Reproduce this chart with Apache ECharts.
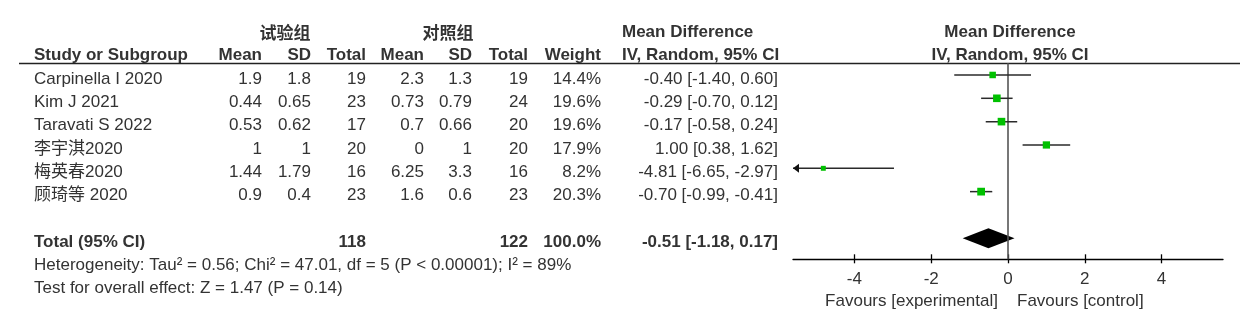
<!DOCTYPE html>
<html><head><meta charset="utf-8">
<script src="https://cdn.jsdelivr.net/npm/echarts@6/dist/echarts.min.js"></script>
<style>html,body{margin:0;padding:0;background:#fff;}#c{width:1246px;height:324px;}</style>
</head><body><div id="c"></div>
<script>
// ---------------- data ----------------
const studies = ['Carpinella I 2020', 'Kim J 2021', 'Taravati S 2022', '李宇淇2020', '梅英春2020', '顾琦等 2020'];
const expMean = [1.9, 0.44, 0.53, 1, 1.44, 0.9];
const expSD = [1.8, 0.65, 0.62, 1, 1.79, 0.4];
const expTotal = [19, 23, 17, 20, 16, 23];
const ctlMean = [2.3, 0.73, 0.7, 0, 6.25, 1.6];
const ctlSD = [1.3, 0.79, 0.66, 1, 3.3, 0.6];
const ctlTotal = [19, 24, 20, 20, 16, 23];
const weights = [14.4, 19.6, 19.6, 17.9, 8.2, 20.3];
const meanDiff = [-0.40, -0.29, -0.17, 1.00, -4.81, -0.70];
const ciLow = [-1.40, -0.70, -0.58, 0.38, -6.65, -0.99];
const ciHigh = [0.60, 0.12, 0.24, 1.62, -2.97, -0.41];
const totalExpN = 118;
const totalCtlN = 122;
const totalWeight = 100.0;
const totalMD = -0.51;
const totalLow = -1.18;
const totalHigh = 0.17;
const heterogeneityText = 'Heterogeneity: Tau² = 0.56; Chi² = 47.01, df = 5 (P < 0.00001); I² = 89%';
const overallText = 'Test for overall effect: Z = 1.47 (P = 0.14)';
const xTicks = [-4, -2, 0, 2, 4];
const groupExp = '试验组';
const groupCtl = '对照组';
const favourLeft = 'Favours [experimental]';
const favourRight = 'Favours [control]';

// ---------------- layout / style ----------------
const FONT = '"Liberation Sans", Arial, "Noto Sans CJK SC", sans-serif';
const CJKFONT = '"Noto Sans CJK SC", sans-serif';
const FS = 17;
const TXT = '#333333';
const COL = {study: 34, expMean: 262, expSD: 311, expN: 366, ctlMean: 424, ctlSD: 472, ctlN: 528,
  weight: 601, ci: 778, mdHead: 622, forestHead: 1010, expGroup: 285, ctlGroup: 448};
const X_MIN = -5.6, X_MAX = 5.6;
const TOTAL_ROW = 7;

const fmtCI = (m, l, h) => m.toFixed(2) + ' [' + l.toFixed(2) + ', ' + h.toFixed(2) + ']';
const cell = (t, x, a, b, f) => ({t: String(t), x: x, a: a, b: !!b, f: f || FONT});

const tableRows = [];
tableRows.push({y: -2, cells: [
  cell(groupExp, COL.expGroup, 'center', true, CJKFONT),
  cell(groupCtl, COL.ctlGroup, 'center', true, CJKFONT),
  cell('Mean Difference', COL.mdHead, 'left', true),
  cell('Mean Difference', COL.forestHead, 'center', true)
]});
tableRows.push({y: -1, cells: [
  cell('Study or Subgroup', COL.study, 'left', true),
  cell('Mean', COL.expMean, 'right', true), cell('SD', COL.expSD, 'right', true), cell('Total', COL.expN, 'right', true),
  cell('Mean', COL.ctlMean, 'right', true), cell('SD', COL.ctlSD, 'right', true), cell('Total', COL.ctlN, 'right', true),
  cell('Weight', COL.weight, 'right', true),
  cell('IV, Random, 95% CI', COL.mdHead, 'left', true),
  cell('IV, Random, 95% CI', COL.forestHead, 'center', true)
]});
studies.forEach((s, i) => tableRows.push({y: i, cells: [
  cell(s, COL.study, 'left'),
  cell(expMean[i], COL.expMean, 'right'), cell(expSD[i], COL.expSD, 'right'), cell(expTotal[i], COL.expN, 'right'),
  cell(ctlMean[i], COL.ctlMean, 'right'), cell(ctlSD[i], COL.ctlSD, 'right'), cell(ctlTotal[i], COL.ctlN, 'right'),
  cell(weights[i].toFixed(1) + '%', COL.weight, 'right'),
  cell(fmtCI(meanDiff[i], ciLow[i], ciHigh[i]), COL.ci, 'right')
]}));
tableRows.push({y: TOTAL_ROW, cells: [
  cell('Total (95% CI)', COL.study, 'left', true),
  cell(totalExpN, COL.expN, 'right', true),
  cell(totalCtlN, COL.ctlN, 'right', true),
  cell(totalWeight.toFixed(1) + '%', COL.weight, 'right', true),
  cell(fmtCI(totalMD, totalLow, totalHigh), COL.ci, 'right', true)
]});
tableRows.push({y: TOTAL_ROW + 1, cells: [cell(heterogeneityText, COL.study, 'left')]});
tableRows.push({y: TOTAL_ROW + 2, cells: [cell(overallText, COL.study, 'left')]});

const forestData = studies.map((s, i) => [meanDiff[i], i, ciLow[i], ciHigh[i], weights[i]]);

const chart = echarts.init(document.getElementById('c'), null, {renderer: 'canvas'});

function renderTable(params, api) {
  const row = tableRows[params.dataIndex];
  const py = api.coord([0, row.y])[1];
  const children = row.cells.map(c => ({
    type: 'text',
    x: api.coord([c.x, row.y])[0],
    y: py,
    style: {text: c.t, align: c.a, verticalAlign: 'middle', fontSize: FS, fontWeight: c.b ? 'bold' : 'normal',
      fontFamily: c.f, fill: TXT}
  }));
  if (params.dataIndex === 1) {
    const a = api.coord([19, -0.7]), b = api.coord([1240, -0.7]);
    children.push({type: 'line', shape: {x1: a[0], y1: Math.round(a[1]) + 0.5, x2: b[0], y2: Math.round(a[1]) + 0.5},
      style: {stroke: '#222', lineWidth: 1.3}});
  }
  return {type: 'group', children};
}

function renderForest(params, api) {
  const md = api.value(0), row = api.value(1), lo = api.value(2), hi = api.value(3), w = api.value(4);
  const l = api.coord([Math.max(lo, X_MIN), row]);
  const h = api.coord([Math.min(hi, X_MAX), row]);
  const c = api.coord([md, row]);
  const sz = 1.72 * Math.sqrt(w);
  const children = [
    {type: 'line', shape: {x1: l[0], y1: l[1], x2: h[0], y2: h[1]}, style: {stroke: '#2a2a2a', lineWidth: 1.5}}
  ];
  if (lo < X_MIN) {
    children.push({type: 'polygon', shape: {points: [[l[0], l[1]], [l[0] + 6, l[1] - 4.5], [l[0] + 6, l[1] + 4.5]]},
      style: {fill: '#111'}});
  }
  children.push({type: 'rect', shape: {x: c[0] - sz / 2, y: c[1] - sz / 2, width: sz, height: sz}, style: {fill: '#00C000'}});
  return {type: 'group', children};
}

function renderDecor(params, api) {
  const top = api.coord([0, -0.5]);
  const bot = api.coord([0, 7.9]);
  const dl = api.coord([totalLow, TOTAL_ROW]);
  const dh = api.coord([totalHigh, TOTAL_ROW]);
  const dm = api.coord([totalMD, TOTAL_ROW]);
  const half = 10;
  return {type: 'group', children: [
    {type: 'polygon', shape: {points: [[dl[0], dl[1]], [dm[0], dm[1] - half], [dh[0], dh[1]], [dm[0], dm[1] + half]]},
      style: {fill: '#000'}},
    {type: 'line', shape: {x1: top[0], y1: top[1], x2: bot[0], y2: bot[1]}, style: {stroke: '#555', lineWidth: 1.6}},
    {type: 'text', x: bot[0] - 10, y: bot[1] + 42,
      style: {text: favourLeft, align: 'right', verticalAlign: 'middle', fontSize: FS, fontFamily: FONT, fill: TXT}},
    {type: 'text', x: bot[0] + 9, y: bot[1] + 42,
      style: {text: favourRight, align: 'left', verticalAlign: 'middle', fontSize: FS, fontFamily: FONT, fill: TXT}}
  ]};
}

chart.setOption({
  backgroundColor: '#fff',
  animation: false,
  grid: [
    {left: 0, right: 0, top: 9, height: 303},
    {left: 793, width: 430, top: 63.3, height: 196}
  ],
  xAxis: [
    {gridIndex: 0, type: 'value', min: 0, max: 1246, show: false},
    {gridIndex: 1, type: 'value', min: X_MIN, max: X_MAX, position: 'bottom',
      axisLine: {onZero: false, lineStyle: {color: '#000', width: 1.3}},
      axisTick: {inside: true, length: 5, customValues: xTicks, lineStyle: {color: '#000', width: 1.3}},
      axisLabel: {show: false}, splitLine: {show: false}},
    {gridIndex: 1, type: 'value', min: X_MIN, max: X_MAX, position: 'bottom',
      axisLine: {show: false, onZero: false},
      axisTick: {inside: false, length: 4, customValues: xTicks, lineStyle: {color: '#000', width: 1.3}},
      axisLabel: {customValues: xTicks, fontSize: FS, fontFamily: FONT, color: TXT, margin: 12},
      splitLine: {show: false}}
  ],
  yAxis: [
    {gridIndex: 0, type: 'value', min: -3, max: 10, inverse: true, show: false},
    {gridIndex: 1, type: 'value', min: -0.5, max: 7.9, inverse: true, show: false}
  ],
  series: [
    {type: 'custom', xAxisIndex: 0, yAxisIndex: 0, clip: false, silent: true,
      data: tableRows.map(r => [0, r.y]), renderItem: renderTable},
    {type: 'custom', xAxisIndex: 1, yAxisIndex: 1, clip: false, silent: true,
      data: [[totalMD, TOTAL_ROW]], renderItem: renderDecor},
    {type: 'custom', xAxisIndex: 1, yAxisIndex: 1, clip: false, silent: true,
      data: forestData, renderItem: renderForest}
  ]
});
</script></body></html>
